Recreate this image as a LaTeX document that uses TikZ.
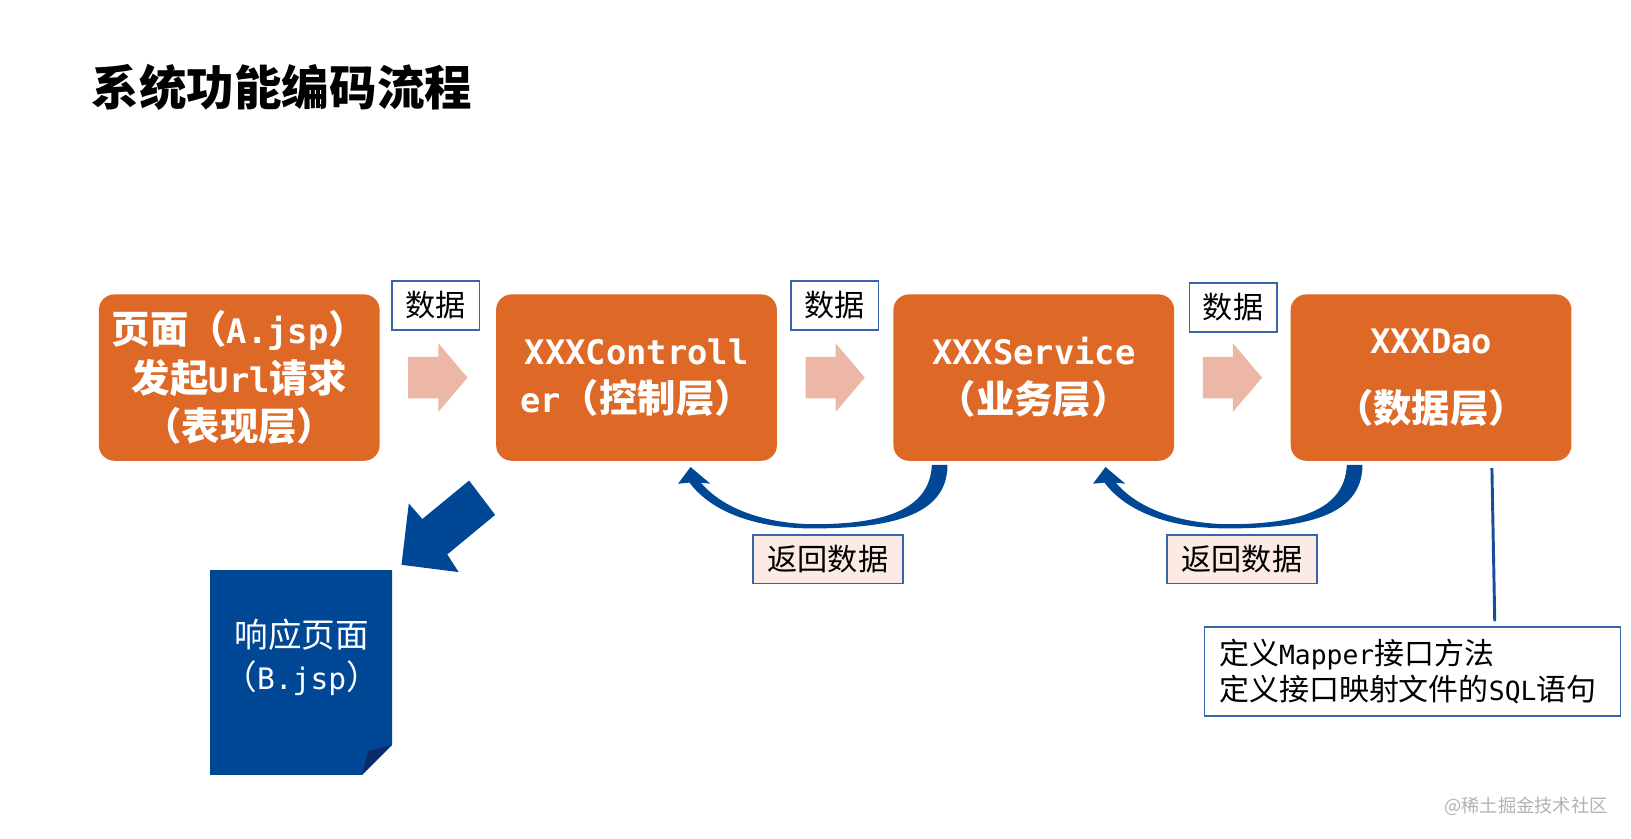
\documentclass[tikz,border=0pt]{standalone}
\usepackage{fontspec}
\setmainfont{Noto Sans CJK SC}
\newfontfamily\engmono[Scale=0.88]{DejaVu Sans Mono}
\usetikzlibrary{calc}
\usetikzlibrary{positioning}

\definecolor{boxorange}{RGB}{222,105,38}
\definecolor{labelblue}{RGB}{58,100,170}
\definecolor{lineblue}{RGB}{25,75,155}
\definecolor{darkblue}{RGB}{0,72,150}
\definecolor{foldblue}{RGB}{10,45,105}
\definecolor{pinkarrow}{RGB}{237,183,168}
\definecolor{returnfill}{RGB}{251,235,228}

\newcommand{\eng}[1]{{\engmono #1}}

\begin{document}
\begin{tikzpicture}[x=0.02cm,y=-0.02cm,
  layer/.style={fill=boxorange,rounded corners=0.3cm,minimum width=5.4cm,minimum height=3.2cm,inner sep=0,outer sep=0,align=center,text=white,font=\bfseries\fontsize{21}{26.6}\selectfont},
  datalabel/.style={draw=labelblue,line width=1pt,fill=white,minimum width=1.68cm,minimum height=0.94cm,inner sep=0,font=\fontsize{16.5}{20}\selectfont},
  backlabel/.style={datalabel,fill=returnfill,minimum width=2.88cm}]

\useasboundingbox (0,0) rectangle (1568,806.5);

\node (title) [anchor=west,inner sep=0,font=\bfseries\fontsize{26}{30}\selectfont] at (88,84) {系统功能编码流程};

\node (page) [layer] at (230,363) {页面（\eng{A.jsp}）\\发起\eng{Url}请求\\（表现层）};
\node (ctrl) [layer,right=2.24cm of page] {\eng{XXXControll}\\\eng{er}（控制层）};
\node (service) [layer,right=2.24cm of ctrl] {\eng{XXXService}\\（业务层）};
\node (dao) [layer,right=2.24cm of service] {\eng{XXXDao}\\[0.38cm]（数据层）};

\node (data1) [datalabel] at (419,293.5) {数据};
\node (data2) [datalabel] at (802.5,293.5) {数据};
\node (data3) [datalabel] at (1185.5,295.5) {数据};

% forward arrows between the layers
\foreach \a/\b in {page/ctrl,ctrl/service,service/dao}
  \fill [fill=pinkarrow] ($(\a.east)!0.5!(\b.west)$) ++(-28.5,20) -- ++(29,0) -- ++(0,13) -- ++(28,-33) -- ++(-28,-33) -- ++(0,13) -- ++(-29,0) -- cycle;

% return arrows
\foreach \src/\dx in {service/0,dao/17}
  \fill [darkblue,shift={(\src.south west)},xshift=\dx*0.02cm] (52,4) .. controls (52,55) and (-8,65) .. (-78,65) .. controls (-133,65) and (-175,49) .. (-196,21) -- (-207,22) -- (-195,6) -- (-176,22) -- (-185,21) .. controls (-166,44) and (-128,60) .. (-78,61) .. controls (-13,61) and (35,49) .. (37,4) -- cycle;

\node (back1) [backlabel] at (796,537.5) {返回数据};
\node (back2) [backlabel] at (1194,537.5) {返回数据};

% response page
\fill [darkblue] (451,462) -- (476,495) -- (430,533) -- (441,550) -- (386,543) -- (393,484) -- (406,499) -- cycle;
\fill [darkblue] (202,548) -- (377,548) -- (377,716) -- (348,745) -- (202,745) -- cycle;
\fill [foldblue] (348,745) -- (377,716) -- (354,722) -- cycle;
\node (doc) [text=white,align=center,font=\fontsize{18.4}{22.7}\selectfont] at (290,632) {响应页面\\（\eng{B.jsp}）};

\node (mapper) [draw=labelblue,line width=1pt,fill=white,minimum width=8cm,minimum height=1.7cm,inner xsep=0.28cm,text width=7.44cm,align=left,font=\fontsize{16.4}{19.3}\selectfont] at (1358,645.5) {定义\eng{Mapper}接口方法\\定义接口映射文件的\eng{SQL}语句};
\draw [lineblue,line width=1.6pt] ($(dao.south)+(58.5,7)$) -- ($(mapper.north)+(79,-5)$);

\node (mark) [text=gray!60,font=\fontsize{10}{12}\selectfont] at (1467,775) {@稀土掘金技术社区};

\end{tikzpicture}
\end{document}
